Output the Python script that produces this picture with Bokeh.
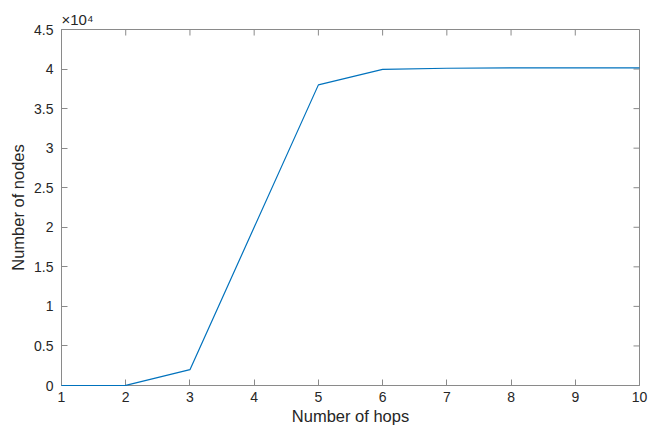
import math
from bokeh.plotting import figure
from bokeh.models import FixedTicker, CustomJSTickFormatter, Range1d, Title
from bokeh.embed import file_html
from bokeh.resources import INLINE

hops = [1, 2, 3, 4, 5, 6, 7, 8, 9, 10]
nodes = [1, 12, 2000, 20000, 38000, 39950, 40100, 40150, 40150, 40150]
x_ticks = [1, 2, 3, 4, 5, 6, 7, 8, 9, 10]
y_ticks = [0, 5000, 10000, 15000, 20000, 25000, 30000, 35000, 40000, 45000]

FONT = "Liberation Sans"
AX = "#8a8a8a"
TXT = "#262626"

p = figure(width=650, height=429, output_backend="svg", toolbar_location=None,
           x_range=Range1d(1, 10), y_range=Range1d(0, 45000),
           min_border_left=61, min_border_right=11, min_border_top=29, min_border_bottom=44)
p.grid.visible = False
p.background_fill_color = "white"
p.border_fill_color = "white"
p.outline_line_color = AX
p.outline_line_width = 1

p.line(hops, nodes, line_color="#0072BD", line_width=1.2, level="overlay")

# mirrored ticks on top and right (box on)
p.ray(x=x_ticks, y=[45000] * len(x_ticks), length=6, length_units="screen",
      angle=-math.pi / 2, line_color=AX, line_width=1)
p.ray(x=[10] * len(y_ticks), y=y_ticks, length=6, length_units="screen",
      angle=math.pi, line_color=AX, line_width=1)

fmt = CustomJSTickFormatter(code="return String(Math.round(tick/1000)/10);")

for ax in p.xaxis:
    ax.ticker = FixedTicker(ticks=x_ticks)
    ax.axis_label = "Number of hops"
    ax.major_label_standoff = 6
    ax.axis_label_standoff = 2
for ax in p.yaxis:
    ax.ticker = FixedTicker(ticks=y_ticks)
    ax.formatter = fmt
    ax.axis_label = "Number of nodes"
    ax.major_label_standoff = 8
    ax.axis_label_standoff = 4

for ax in list(p.xaxis) + list(p.yaxis):
    ax.axis_line_color = AX
    ax.major_tick_line_color = AX
    ax.major_tick_in = 6
    ax.major_tick_out = 0
    ax.minor_tick_line_color = None
    ax.major_label_text_font = FONT
    ax.major_label_text_font_size = "14px"
    ax.major_label_text_color = TXT
    ax.axis_label_text_font = FONT
    ax.axis_label_text_font_size = "16.5px"
    ax.axis_label_text_font_style = "normal"
    ax.axis_label_text_color = TXT

# exponent label
p.add_layout(Title(text="×10⁴", text_font=FONT, text_font_size="15px",
                   text_color=TXT, text_font_style="normal", align="left",
                   offset=0, standoff=4), "above")

open("out.html", "w").write(file_html(p, INLINE))
